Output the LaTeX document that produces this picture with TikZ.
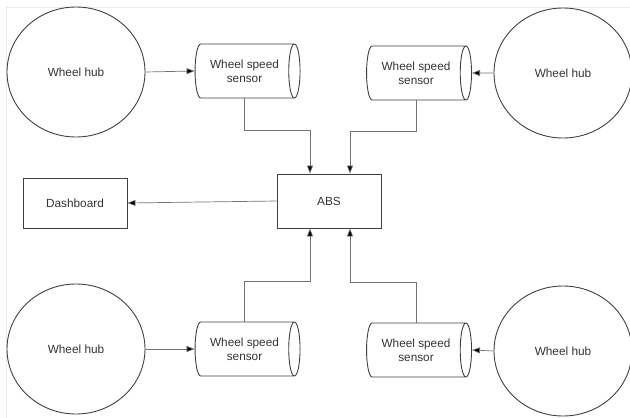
\documentclass[tikz,border=0pt]{standalone}
\usepackage{fontspec}
\setmainfont{Liberation Sans}
\usetikzlibrary{shapes.geometric,arrows.meta}
\begin{document}
\begin{tikzpicture}[x=1pt,y=-1pt,
  every node/.style={font=\fontsize{11.8}{14}\selectfont, text=black!80},
  hub/.style={draw=black!75, line width=0.9pt, ellipse, minimum width=138pt, minimum height=130pt, inner sep=0pt},
  sensor/.style={draw=black!75, line width=0.9pt, cylinder, aspect=0.5, minimum width=54pt, minimum height=105pt, align=center, inner sep=0pt},
  box/.style={draw=black!75, line width=0.9pt, rectangle, minimum width=104pt, minimum height=54pt},
  arr/.style={draw=black!55, line width=0.7pt, -{Triangle[length=8pt,width=6pt,fill=black]}},
  frame/.style={draw=black!8, line width=0.8pt}
]
\useasboundingbox (0,0) rectangle (630,418);
\draw[frame] (6,418) -- (6,7) -- (630,7);

\node[hub] (hTL) at (76,72) {Wheel hub};
\node[hub] (hTR) at (563,73) {Wheel hub};
\node[hub] (hBL) at (76,349) {Wheel hub};
\node[hub] (hBR) at (563,351) {Wheel hub};

\node[sensor] (sTL) at (244.5,71) {Wheel speed\\sensor};
\node[sensor] (sTR) at (416,73) {Wheel speed\\sensor};
\node[sensor] (sBL) at (244.5,349) {Wheel speed\\sensor};
\node[sensor] (sBR) at (416,350) {Wheel speed\\sensor};

\node[box] (abs) at (329,201) {ABS};
\node[box, minimum height=50pt] (dash) at (75,203) {Dashboard};

\draw[arr] (hTL.east) -- (sTL.west);
\draw[arr] (hTR.west) -- (sTR.east);
\draw[arr] (hBL.east) -- (sBL.west);
\draw[arr] (hBR.west) -- (sBR.east);

\draw[arr] (sTL.south) -- ++(0,32) -| ([xshift=-19pt]abs.north);
\draw[arr] (sTR.south) -- ++(0,31) -| ([xshift=21pt]abs.north);
\draw[arr] (sBL.north) -- ++(0,-40) -| ([xshift=-19pt]abs.south);
\draw[arr] (sBR.north) -- ++(0,-40) -| ([xshift=21pt]abs.south);

\draw[arr] (abs.west) -- (dash.east);
\end{tikzpicture}
\end{document}
